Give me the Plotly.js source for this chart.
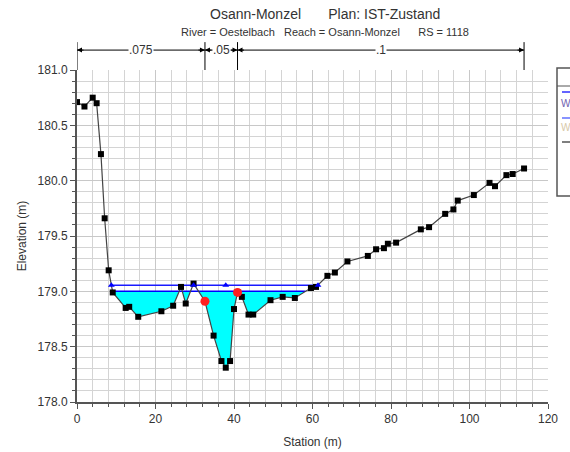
<!DOCTYPE html>
<html>
<head>
<meta charset="utf-8">
<script src="https://cdn.plot.ly/plotly-3.0.1.min.js"></script>
<style>
html,body{margin:0;padding:0;background:#fff;}
#chart{width:570px;height:452px;}
</style>
</head>
<body>
<div id="chart"></div>
<script>
// Ground profile (station m, elevation m)
const groundStation = [0, 1.9, 4.0, 5.0, 6.1, 7.05, 8.07, 9.1, 12.4, 13.3, 15.6, 21.5, 24.5, 26.5, 27.7, 29.7,
  32.6, 34.8, 36.8, 37.9, 39.0, 40.0, 40.9, 42.0, 43.7, 44.9, 49.3, 52.4, 55.5, 59.6, 60.9, 63.8, 65.7,
  68.9, 74.1, 76.2, 78.2, 79.2, 81.3, 87.6, 89.7, 93.8, 95.9, 97.0, 101.1, 105.1, 106.5, 109.4, 111.0, 113.9];
const groundElev = [180.71, 180.67, 180.75, 180.70, 180.24, 179.66, 179.19, 178.99, 178.85, 178.86, 178.77, 178.82, 178.87, 179.04, 178.89, 179.07,
  178.91, 178.60, 178.37, 178.31, 178.37, 178.84, 178.99, 178.95, 178.79, 178.79, 178.92, 178.95, 178.94, 179.03, 179.04, 179.14, 179.17,
  179.27, 179.32, 179.38, 179.39, 179.43, 179.44, 179.56, 179.58, 179.70, 179.74, 179.82, 179.87, 179.98, 179.95, 180.05, 180.06, 180.11];
// Bank stations
const bankStation = [32.6, 40.9];
const bankElev = [178.91, 178.99];
// Water surfaces
const wsLower = 179.00;
const wsUpper = 179.055;
const wsUpperMarkerStation = [8.75, 29.7, 37.9, 61.4];
// Manning's n
const nValues = ['.075', '.05', '.1'];
// Legend entries (visible part only; box is cut by the picture edge)
const legendLabels = ['W', 'W'];

function crossings(xs, ys, lvl) {
  const out = [];
  for (let i = 0; i < xs.length - 1; i++) {
    const a = ys[i] - lvl, b = ys[i + 1] - lvl;
    if (a * b < 0) out.push(xs[i] + (xs[i + 1] - xs[i]) * a / (a - b));
  }
  return out;
}
const cr = crossings(groundStation, groundElev, wsLower);
const wL = cr[0], wR = cr[cr.length - 1];
const fx = [], fy = [];
fx.push(wL); fy.push(wsLower);
for (let i = 0; i < groundStation.length; i++) {
  const x = groundStation[i];
  if (x > wL && x < wR) {
    cr.forEach(c => { if (c > (groundStation[i - 1] || -1) && c < x && c > wL && c < wR) { fx.push(c); fy.push(wsLower); } });
    fx.push(x); fy.push(Math.min(groundElev[i], wsLower));
  }
}
fx.push(wR); fy.push(wsLower);
const upCr = crossings(groundStation, groundElev, wsUpper);
const uL = upCr[0], uR = upCr[upCr.length - 1];

const traces = [
  {x: fx, y: fx.map(() => wsLower), mode: 'lines', line: {width: 0, color: 'rgba(0,0,0,0)'}, hoverinfo: 'skip', showlegend: false},
  {x: fx, y: fy, mode: 'lines', fill: 'tonexty', fillcolor: '#00ffff', line: {width: 0, color: 'rgba(0,0,0,0)'}, hoverinfo: 'skip', showlegend: false},
  {x: [wL, wR], y: [wsLower, wsLower], mode: 'lines', line: {color: '#0000ff', width: 1.5}, showlegend: false},
  {x: [uL, uR], y: [wsUpper, wsUpper], mode: 'lines', line: {color: '#1a1aff', width: 1.5}, showlegend: false},
  {x: groundStation, y: groundElev, mode: 'lines+markers', line: {color: '#444', width: 1.2},
   marker: {symbol: 'square', size: 6, color: '#000'}, showlegend: false},
  {x: wsUpperMarkerStation, y: wsUpperMarkerStation.map(() => wsUpper), mode: 'markers',
   marker: {symbol: 'triangle-up', size: 6, color: '#0000ff'}, showlegend: false},
  {x: bankStation, y: bankElev, mode: 'markers', marker: {symbol: 'circle', size: 9, color: '#ff2020'}, showlegend: false}
];

const font = {family: 'Liberation Sans, Arial, sans-serif', color: '#333', size: 12};
const breaks = [groundStation[0], bankStation[0], bankStation[1], groundStation[groundStation.length - 1]];
const shapes = [], annotations = [];
const yArr = 1.060, yTop = 1.084;
breaks.forEach(b => shapes.push({type: 'line', xref: 'x', yref: 'paper', x0: b, x1: b, y0: 1.0, y1: yTop, line: {color: '#000', width: 1}}));
for (let i = 0; i < nValues.length; i++) {
  const a = breaks[i], b = breaks[i + 1], m = (a + b) / 2;
  shapes.push({type: 'line', xref: 'x', yref: 'paper', x0: a, x1: b, y0: yArr, y1: yArr, line: {color: '#000', width: 1}});
  annotations.push({xref: 'x', yref: 'paper', x: a, y: yArr, ax: 8, ay: 0, axref: 'pixel', ayref: 'pixel', text: '', showarrow: true, arrowhead: 2, arrowsize: 1, arrowwidth: 1, arrowcolor: '#000'});
  annotations.push({xref: 'x', yref: 'paper', x: b, y: yArr, ax: -8, ay: 0, axref: 'pixel', ayref: 'pixel', text: '', showarrow: true, arrowhead: 2, arrowsize: 1, arrowwidth: 1, arrowcolor: '#000'});
  annotations.push({xref: 'x', yref: 'paper', x: m, y: yArr, xanchor: 'center', yanchor: 'middle', text: nValues[i], showarrow: false, bgcolor: '#fff', borderpad: 0, font: {family: font.family, size: 12, color: '#333'}});
}
// titles
annotations.push({xref: 'paper', yref: 'paper', x: 0.527, y: 1.169, xanchor: 'center', yanchor: 'middle', text: 'Osann-Monzel&nbsp;&nbsp;&nbsp;&nbsp;&nbsp;&nbsp;&nbsp;Plan: IST-Zustand', showarrow: false, font: {family: font.family, size: 14, color: '#333'}});
annotations.push({xref: 'paper', yref: 'paper', x: 0.527, y: 1.114, xanchor: 'center', yanchor: 'middle', text: 'River = Oestelbach&nbsp;&nbsp;&nbsp;Reach = Osann-Monzel&nbsp;&nbsp;&nbsp;&nbsp;&nbsp;&nbsp;RS = 1118', showarrow: false, font: {family: font.family, size: 11, color: '#333'}});
// partial legend box at right
const px = v => (v - 77) / 471, py = v => (402 - v) / 332;
shapes.push({type: 'rect', xref: 'paper', yref: 'paper', x0: px(557), x1: px(600), y0: py(68), y1: py(196), line: {color: '#555', width: 1.5}, fillcolor: 'rgba(0,0,0,0)'});
shapes.push({type: 'line', xref: 'paper', yref: 'paper', x0: px(557), x1: px(600), y0: py(86), y1: py(86), line: {color: '#555', width: 1}});
shapes.push({type: 'line', xref: 'paper', yref: 'paper', x0: px(562), x1: px(600), y0: py(92), y1: py(92), line: {color: '#3030ff', width: 1.5}});
shapes.push({type: 'line', xref: 'paper', yref: 'paper', x0: px(562), x1: px(600), y0: py(118), y1: py(118), line: {color: '#6070ff', width: 1.5}});
shapes.push({type: 'line', xref: 'paper', yref: 'paper', x0: px(562), x1: px(600), y0: py(142), y1: py(142), line: {color: '#555', width: 1.5}});
annotations.push({xref: 'paper', yref: 'paper', x: px(559), y: py(103), xanchor: 'left', yanchor: 'middle', text: legendLabels[0], showarrow: false, font: {family: font.family, size: 10, color: '#7060b0'}});
annotations.push({xref: 'paper', yref: 'paper', x: px(559), y: py(128), xanchor: 'left', yanchor: 'middle', text: legendLabels[1], showarrow: false, font: {family: font.family, size: 10, color: '#d8c8a8'}});

const layout = {
  width: 570, height: 452,
  margin: {l: 77, r: 22, t: 70, b: 50},
  paper_bgcolor: '#fff', plot_bgcolor: '#fff',
  font: font,
  showlegend: false,
  xaxis: {
    range: [0, 120], dtick: 20, tick0: 0, ticks: 'outside', ticklen: 5, tickcolor: '#555',
    showline: true, linecolor: '#555', linewidth: 2, zeroline: false,
    showgrid: true, gridcolor: '#c8c8c8', gridwidth: 1,
    minor: {dtick: 4, ticks: 'outside', ticklen: 3, tickcolor: '#555', showgrid: true, gridcolor: '#d4d4d4', gridwidth: 1},
    title: {text: 'Station (m)', font: {size: 12, color: '#333'}, standoff: 12},
    tickfont: {size: 12, color: '#333'}
  },
  yaxis: {
    range: [178, 181], dtick: 0.5, tick0: 178, tickformat: '.1f', ticks: 'outside', ticklen: 5, tickcolor: '#555',
    showline: true, linecolor: '#555', linewidth: 2, zeroline: false,
    showgrid: true, gridcolor: '#c8c8c8', gridwidth: 1,
    minor: {dtick: 0.1, ticks: 'outside', ticklen: 3, tickcolor: '#555', showgrid: true, gridcolor: '#d4d4d4', gridwidth: 1},
    title: {text: 'Elevation (m)', font: {size: 12, color: '#333'}, standoff: 8},
    tickfont: {size: 12, color: '#333'}
  },
  shapes: shapes,
  annotations: annotations
};
Plotly.newPlot('chart', traces, layout, {displayModeBar: false, staticPlot: true});
</script>
</body>
</html>
